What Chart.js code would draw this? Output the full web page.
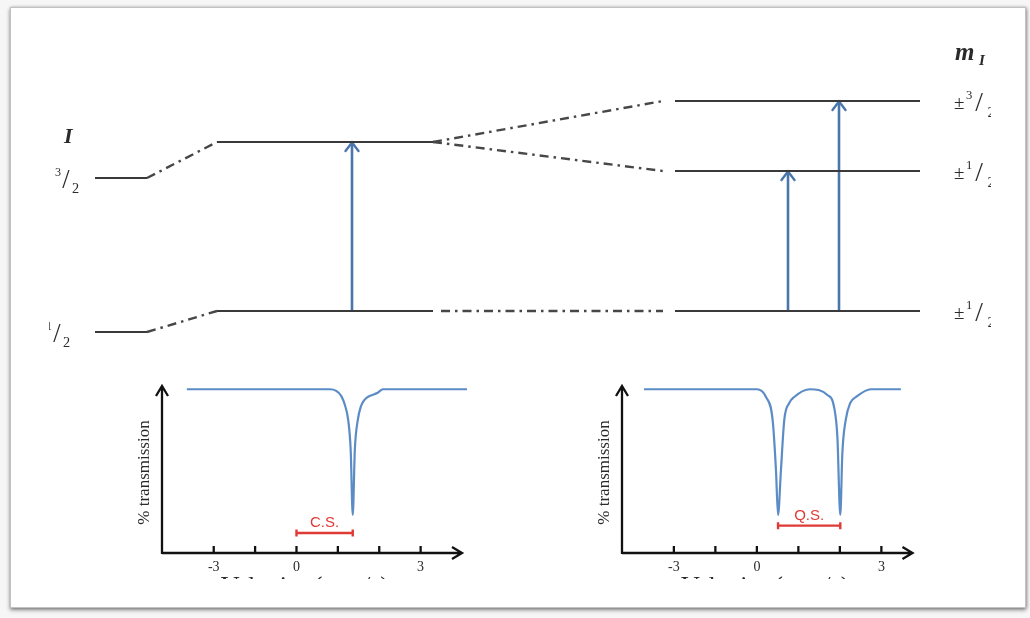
<!DOCTYPE html>
<html>
<head>
<meta charset="utf-8">
<script src="https://cdn.jsdelivr.net/npm/chart.js@4.4.1/dist/chart.umd.min.js"></script>
<style>
  html, body { margin: 0; padding: 0; background: #f6f6f6; }
  #page { position: relative; width: 1030px; height: 618px; overflow: hidden; }
  #frame {
    position: absolute; left: 10px; top: 7px; width: 1014px; height: 599px;
    background: #fff; border: 1px solid #c2c2c2;
    box-shadow: 0 2px 4px rgba(0,0,0,.45), 1px 0 3px rgba(0,0,0,.2);
  }
  #clip { position: absolute; left: 0; top: 0; width: 1030px; height: 618px;
          clip-path: inset(20px 39px 39px 49px); }
  canvas { position: absolute; }
  #diagram { left: 0; top: 0; }
  #specCS { left: 120px; top: 370px; }
  #specQS { left: 580px; top: 370px; }
</style>
</head>
<body>
<div id="page">
  <div id="frame"></div>
  <div id="clip">
    <canvas id="diagram" width="1030" height="618"></canvas>
    <canvas id="specCS" width="370" height="230"></canvas>
    <canvas id="specQS" width="370" height="230"></canvas>
  </div>
</div>
<script>
// ---- energy level diagram (x = column position, y = energy, arbitrary units)
const levelCols = [[9.5, 14.7], [21.7, 43.3], [67.5, 92.0]];
const bareLevels = [15.4, 0];            // I = 3/2, I = 1/2
const shiftedLevels = [19.0, 2.1];       // after isomer shift
const splitLevels = [23.1, 16.1, 2.1];   // +-3/2, +-1/2 (excited), +-1/2 (ground)
const linkX = [[14.7, 21.7], [43.3, 66.3]];
const transitionX = [35.2, 78.8, 83.9];
const transitionFrom = [2.1, 2.1, 2.1];
const transitionTo = [19.0, 16.1, 23.1];
const spinLabels = ['3', '1'];            // numerators of I
const mLabels = ['3', '1', '1'];          // numerators of m_I

// ---- spectra (x in tick steps, y in % transmission)
const velTicks = [0, 1, 2, 3, 4, 5];
const velTickLabels = ['-3', '', '0', '', '', '3'];
const csVel = [-0.65, 2.81, 2.96, 3.08, 3.17, 3.25, 3.31, 3.36, 3.41, 3.48, 3.56, 3.66, 3.78, 3.95, 4.09, 6.12];
const csTrans = [100, 100, 99, 96, 90.4, 81.2, 62.9, 23.2, 63, 81, 89.8, 94, 96, 97.7, 100, 100];
const qsVel = [-0.72, 2.0, 2.22, 2.38, 2.46, 2.51, 2.58, 2.66, 2.78, 2.90, 3.28, 3.70, 3.86, 3.94, 4.01, 4.06, 4.14, 4.25, 4.39, 4.75, 5.47];
const qsTrans = [100, 100, 95.3, 81.2, 50.7, 23.2, 50.7, 81.2, 91.6, 95.3, 100, 96.5, 89.2, 70.9, 23.2, 61.1, 81.2, 91.6, 95.3, 100, 100];
const csSpan = [2, 3.36];
const qsSpan = [2.51, 4.01];

const levelColor = '#3a3a3a';
const arrowColor = '#4a76ac';
const serif = '"Liberation Serif", "DejaVu Serif", serif';

function seg(x0, x1, e0, e1) {
  return [{x: x0, y: e0}, {x: x1, y: e1}];
}

// open arrow head, apex at the centre of the canvas
function chevron() {
  const c = document.createElement('canvas');
  c.width = 24; c.height = 24;
  const g = c.getContext('2d');
  g.strokeStyle = arrowColor;
  g.lineWidth = 2.4;
  g.lineCap = 'round';
  g.beginPath();
  g.moveTo(5.5, 21); g.lineTo(12, 12.5); g.lineTo(18.5, 21);
  g.stroke();
  return c;
}

function solid(data) {
  return {data, showLine: true, borderColor: levelColor, borderWidth: 2, pointRadius: 0};
}
function dashdot(data) {
  return {data, showLine: true, borderColor: '#474747', borderWidth: 2.4,
          borderDash: [9, 5, 2.5, 5], pointRadius: 0};
}

const head = chevron();
const datasets = [];
bareLevels.forEach(e => datasets.push(solid(seg(levelCols[0][0], levelCols[0][1], e, e))));
shiftedLevels.forEach(e => datasets.push(solid(seg(levelCols[1][0], levelCols[1][1], e, e))));
splitLevels.forEach(e => datasets.push(solid(seg(levelCols[2][0], levelCols[2][1], e, e))));
bareLevels.forEach((e, i) => datasets.push(dashdot(seg(linkX[0][0], linkX[0][1], e, shiftedLevels[i]))));
datasets.push(dashdot(seg(linkX[1][0], linkX[1][1], shiftedLevels[0], splitLevels[0])));
datasets.push(dashdot(seg(linkX[1][0], linkX[1][1], shiftedLevels[0], splitLevels[1])));
datasets.push(dashdot(seg(linkX[1][0] + 0.8, linkX[1][1], shiftedLevels[1], splitLevels[2])));
transitionX.forEach((x, i) => datasets.push({
  data: seg(x, x, transitionFrom[i], transitionTo[i]),
  showLine: true, borderColor: arrowColor, borderWidth: 2.6,
  pointRadius: [0, 8], pointStyle: head
}));

// superscript / slash / subscript, as in 3/2
function fraction(ctx, px, py, num, s, gap) {
  ctx.font = (11 * s) + 'px ' + serif;
  ctx.fillText(num, px, py - 2 * s);
  ctx.font = (24 * s) + 'px ' + serif;
  ctx.fillText('/', px + (6.5 + gap) * s, py + 9 * s);
  ctx.font = (13 * s) + 'px ' + serif;
  ctx.fillText('2', px + (15.5 + 2 * gap) * s, py + 14 * s);
}

const levelLabels = {
  id: 'levelLabels',
  afterDatasetsDraw(chart) {
    const {ctx, scales: {x, y}} = chart;
    ctx.save();
    ctx.fillStyle = '#2a2a2a';
    ctx.textBaseline = 'alphabetic';
    ctx.textAlign = 'left';

    ctx.font = 'italic bold 22px ' + serif;
    ctx.fillText('I', x.getPixelForValue(6.4), y.getPixelForValue(18.9));
    ctx.font = 'italic bold 25px ' + serif;
    ctx.fillText('m', x.getPixelForValue(95.5), y.getPixelForValue(27.2));
    ctx.font = 'italic bold 15px ' + serif;
    ctx.fillText('I', x.getPixelForValue(97.9), y.getPixelForValue(26.7));

    // I values on the bare levels
    fraction(ctx, x.getPixelForValue(5.5), y.getPixelForValue(bareLevels[0]), spinLabels[0], 1.1, 0);
    fraction(ctx, x.getPixelForValue(4.6), y.getPixelForValue(bareLevels[1]), spinLabels[1], 1.1, 0);

    // m_I values on the split levels
    splitLevels.forEach((e, i) => {
      const px = x.getPixelForValue(95.4), py = y.getPixelForValue(e);
      ctx.font = '19px ' + serif;
      ctx.fillText('\u00b1', px, py + 8);
      fraction(ctx, px + 12, py, mLabels[i], 1.15, 1.6);
    });
    ctx.restore();
  }
};

new Chart(document.getElementById('diagram'), {
  type: 'scatter',
  data: {datasets},
  options: {
    responsive: false,
    animation: false,
    events: [],
    layout: {padding: 0, autoPadding: false},
    scales: {
      x: {type: 'linear', min: 0, max: 103, display: false},
      y: {type: 'linear', min: -28.6, max: 33.2, display: false}
    },
    plugins: {legend: {display: false}, tooltip: {enabled: false}}
  },
  plugins: [levelLabels]
});

// axes with arrows, ticks, titles and the red span marker
const spectrumFrame = {
  id: 'spectrumFrame',
  beforeDatasetsDraw(chart) {
    const {ctx, chartArea: a, scales: {x}} = chart;
    ctx.save();
    ctx.strokeStyle = '#111';
    ctx.lineWidth = 2.3;
    ctx.beginPath();
    ctx.moveTo(a.left, a.bottom); ctx.lineTo(a.right, a.bottom);
    ctx.moveTo(a.left, a.bottom + 1); ctx.lineTo(a.left, a.top);
    ctx.moveTo(a.right - 10, a.bottom - 6); ctx.lineTo(a.right, a.bottom); ctx.lineTo(a.right - 10, a.bottom + 6);
    ctx.moveTo(a.left - 6, a.top + 10); ctx.lineTo(a.left, a.top); ctx.lineTo(a.left + 6, a.top + 10);
    ctx.stroke();

    ctx.fillStyle = '#2a2a2a';
    ctx.textAlign = 'center';
    ctx.textBaseline = 'middle';
    ctx.font = '14px ' + serif;
    velTicks.forEach((v, i) => {
      const px = x.getPixelForValue(v);
      ctx.beginPath();
      ctx.moveTo(px, a.bottom - 7); ctx.lineTo(px, a.bottom);
      ctx.stroke();
      if (velTickLabels[i]) ctx.fillText(velTickLabels[i], px, a.bottom + 14);
    });

    ctx.textBaseline = 'alphabetic';
    ctx.font = '26px ' + serif;
    ctx.fillText('Velocity (mm/s)', x.getPixelForValue(2.2), a.bottom + 41);

    ctx.save();
    ctx.translate(a.left - 17, (a.top + a.bottom) / 2 + 3);
    ctx.rotate(-Math.PI / 2);
    ctx.textBaseline = 'middle';
    ctx.font = '17px ' + serif;
    ctx.fillText('% transmission', 0, 0);
    ctx.restore();
    ctx.restore();
  },
  afterDatasetsDraw(chart, args, o) {
    const {ctx, scales: {x, y}} = chart;
    const x0 = x.getPixelForValue(o.span[0]), x1 = x.getPixelForValue(o.span[1]);
    const py = y.getPixelForValue(o.level);
    ctx.save();
    ctx.strokeStyle = '#e03a36';
    ctx.fillStyle = '#e03a36';
    ctx.lineWidth = 2.4;
    ctx.beginPath();
    ctx.moveTo(x0, py); ctx.lineTo(x1, py);
    ctx.moveTo(x0, py - 3.5); ctx.lineTo(x0, py + 3.5);
    ctx.moveTo(x1, py - 3.5); ctx.lineTo(x1, py + 3.5);
    ctx.stroke();
    ctx.font = '15px "Liberation Sans", Arial, sans-serif';
    ctx.textAlign = 'center';
    ctx.fillText(o.text, (x0 + x1) / 2, py - 6);
    ctx.restore();
  }
};

function spectrum(id, vel, trans, xMax, pad, span, level, text) {
  return new Chart(document.getElementById(id), {
    type: 'scatter',
    data: {
      datasets: [{
        data: vel.map((v, i) => ({x: v, y: trans[i]})),
        showLine: true,
        borderColor: '#5b8cc6',
        borderWidth: 2.2,
        pointRadius: 0,
        cubicInterpolationMode: 'monotone',
        clip: false
      }]
    },
    options: {
      responsive: false,
      animation: false,
      events: [],
      layout: {padding: pad, autoPadding: false},
      scales: {
        x: {type: 'linear', min: -1.25, max: xMax, display: false},
        y: {type: 'linear', min: 0, max: 102, display: false}
      },
      plugins: {
        legend: {display: false},
        tooltip: {enabled: false},
        spectrumFrame: {span, level, text}
      }
    },
    plugins: [spectrumFrame]
  });
}

spectrum('specCS', csVel, csTrans, 6, {left: 42, right: 28, top: 16, bottom: 47}, csSpan, 12.2, 'C.S.');
spectrum('specQS', qsVel, qsTrans, 5.75, {left: 42, right: 37.5, top: 16, bottom: 47}, qsSpan, 16.7, 'Q.S.');
</script>
</body>
</html>
